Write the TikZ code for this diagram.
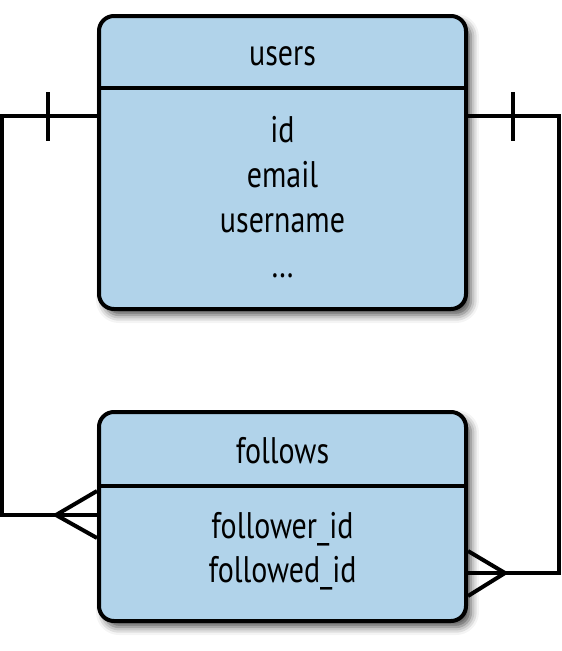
\documentclass[tikz,border=0pt]{standalone}
\usepackage{fontspec}
\setmainfont{PT Sans}[FakeStretch=0.81]
\usetikzlibrary{calc,shadows.blur}
\definecolor{tablefill}{RGB}{177,211,234}

\begin{document}
\begin{tikzpicture}[x=1pt,y=-1pt,
    tablebox/.style={draw, line width=4pt, rounded corners=15pt, fill=tablefill,
      blur shadow={shadow xshift=5pt, shadow yshift=-6pt, shadow blur radius=8pt, shadow opacity=70}},
    field/.style={anchor=base, inner sep=0pt, font=\fontsize{37}{44}\selectfont},
    link/.style={line width=4pt}]
\useasboundingbox (0,0) rectangle (562,651);
\node[tablebox, minimum width=367pt, minimum height=293pt] (users) at (282.5,162.5) {};
\node[tablebox, minimum width=367pt, minimum height=209pt] (follows) at (282.5,516.5) {};
\draw[link] ($(users.north west)+(0,74)$) -- ($(users.north east)+(0,74)$);
\draw[link] ($(follows.north west)+(0,76)$) -- ($(follows.north east)+(0,76)$);
\node[field] (usershead) at (282.5,65) {users};
\foreach \f [count=\n] in {id,email,username,\ldots} {
     \node[field] (users\n) at (282.5,97+45*\n) {\f};
  }
\node[field] (followshead) at (282.5,463) {follows};
\foreach \f [count=\n] in {follower\_id,followed\_id} {
     \node[field] (follows\n) at (282.5,494+44*\n) {\f};
  }
\coordinate (uL) at ($(users.north west)+(0,102)$);
\coordinate (uR) at ($(users.north east)+(0,102)$);
\coordinate (fL) at ($(follows.north west)+(0,105)$);
\coordinate (fR) at ($(follows.north east)+(0,163)$);
\coordinate (lrail) at ($(uL)+(-95,0)$);
\coordinate (rrail) at ($(uR)+(91,0)$);
\draw[link] (uL) -| (lrail |- fL) -- (fL);
\draw[link] (uR) -| (rrail |- fR) -- (fR);
% one side
\draw[link] ($(uL)+(-49,-24)$) -- ($(uL)+(-49,25)$);
\draw[link] ($(uR)+(45,-24)$) -- ($(uR)+(45,25)$);
% many side
\draw[link] ($(fL)+(0,-24)$) -- ($(fL)+(-41,0)$) -- ($(fL)+(0,23)$);
\draw[link] ($(fR)+(0,-22)$) -- ($(fR)+(37,0)$) -- ($(fR)+(0,23)$);
\end{tikzpicture}
\end{document}
